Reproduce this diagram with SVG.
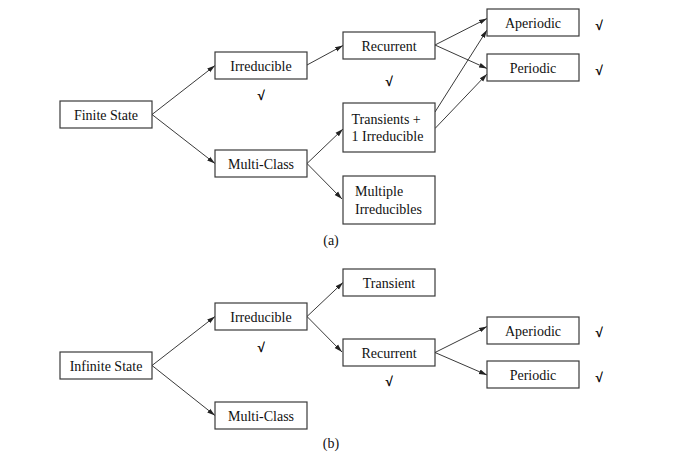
<svg xmlns="http://www.w3.org/2000/svg" width="677" height="460" viewBox="0 0 677 460">
<style>
rect.n{fill:#fff;stroke:#3a3a3a;stroke-width:1.2}
text{font-family:"Liberation Serif","Times New Roman",serif;font-size:14px;fill:#111}
text.c{text-anchor:middle}
text.k{font-size:13px;font-weight:bold;text-anchor:middle;fill:#000;stroke:#000;stroke-width:0.4}
.e line{stroke:#222;stroke-width:0.9;marker-end:url(#ah)}
</style>
<defs>
<marker id="ah" markerUnits="userSpaceOnUse" markerWidth="8" markerHeight="6" refX="8" refY="3" orient="auto">
<path d="M0,0.6 L8,3 L0,5.4 z" fill="#222"/>
</marker>
</defs>
<rect width="677" height="460" fill="#fff"/>
<g class="e" id="connectors">
<line x1="152" y1="114.5" x2="215" y2="65.5"/>
<line x1="152" y1="114.5" x2="215" y2="163.5"/>
<line x1="307" y1="65" x2="343" y2="45.5"/>
<line x1="307" y1="163.5" x2="343" y2="129"/>
<line x1="307" y1="163.5" x2="342" y2="199"/>
<line x1="435" y1="45" x2="487" y2="18.5"/>
<line x1="435" y1="45" x2="487" y2="68.5"/>
<line x1="435" y1="112" x2="487" y2="30"/>
<line x1="435" y1="128.5" x2="487" y2="74"/>
<line x1="152" y1="365.5" x2="215" y2="316.5"/>
<line x1="152" y1="365.5" x2="215" y2="415.5"/>
<line x1="307" y1="316.5" x2="343" y2="282.5"/>
<line x1="307" y1="316.5" x2="342" y2="352"/>
<line x1="435" y1="352.5" x2="487" y2="326.5"/>
<line x1="435" y1="352.5" x2="487" y2="375"/>
</g>
<g id="a-finite"><rect class="n" x="60" y="101" width="92" height="27"/><text class="c" x="106" y="119.5">Finite State</text></g>
<g id="a-irreducible"><rect class="n" x="215" y="52" width="92" height="27"/><text class="c" x="261" y="70.5">Irreducible</text></g>
<g id="a-multiclass"><rect class="n" x="215" y="150" width="92" height="27"/><text class="c" x="261" y="168.5">Multi-Class</text></g>
<g id="a-recurrent"><rect class="n" x="343" y="32" width="92" height="27"/><text class="c" x="389" y="50.5">Recurrent</text></g>
<g id="a-transients"><rect class="n" x="343" y="103" width="92" height="49"/><text x="351.5" y="123.5">Transients +</text><text x="351.5" y="140.5">1 Irreducible</text></g>
<g id="a-multiple"><rect class="n" x="343" y="176" width="92" height="48"/><text x="355" y="196">Multiple</text><text x="355" y="213.5">Irreducibles</text></g>
<g id="a-aperiodic"><rect class="n" x="487" y="9" width="92" height="27"/><text class="c" x="533" y="27.5">Aperiodic</text></g>
<g id="a-periodic"><rect class="n" x="487" y="54" width="92" height="27"/><text class="c" x="533" y="72.5">Periodic</text></g>
<g id="a-checks">
<text class="k" x="261" y="100">√</text>
<text class="k" x="389" y="86">√</text>
<text class="k" x="599" y="30">√</text>
<text class="k" x="599" y="75">√</text>
</g>
<text class="c" x="331" y="245">(a)</text>
<g id="b-infinite"><rect class="n" x="60" y="352" width="92" height="27"/><text class="c" x="106" y="370.5">Infinite State</text></g>
<g id="b-irreducible"><rect class="n" x="215" y="303" width="92" height="27"/><text class="c" x="261" y="321.5">Irreducible</text></g>
<g id="b-multiclass"><rect class="n" x="215" y="402" width="92" height="27"/><text class="c" x="261" y="420.5">Multi-Class</text></g>
<g id="b-transient"><rect class="n" x="343" y="269" width="92" height="27"/><text class="c" x="389" y="287.5">Transient</text></g>
<g id="b-recurrent"><rect class="n" x="343" y="339" width="92" height="27"/><text class="c" x="389" y="357.5">Recurrent</text></g>
<g id="b-aperiodic"><rect class="n" x="487" y="317" width="92" height="27"/><text class="c" x="533" y="335.5">Aperiodic</text></g>
<g id="b-periodic"><rect class="n" x="487" y="361" width="92" height="27"/><text class="c" x="533" y="379.5">Periodic</text></g>
<g id="b-checks">
<text class="k" x="261" y="351.5">√</text>
<text class="k" x="389" y="386">√</text>
<text class="k" x="599" y="336.5">√</text>
<text class="k" x="599" y="381.5">√</text>
</g>
<text class="c" x="331" y="448">(b)</text>
</svg>
